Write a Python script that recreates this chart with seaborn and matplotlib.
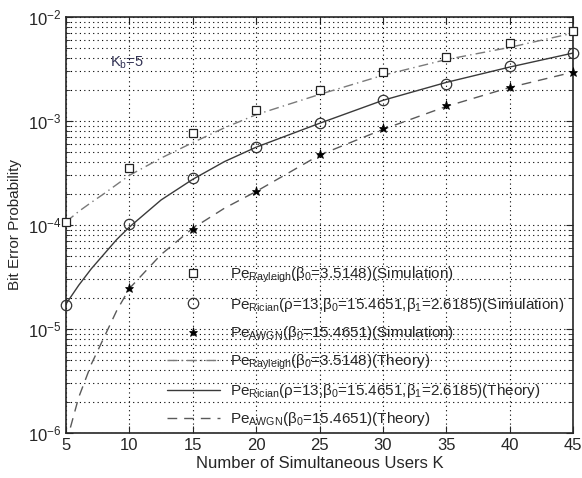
import numpy as np
import pandas as pd
import matplotlib
matplotlib.use("Agg")
import matplotlib.pyplot as plt
from matplotlib.lines import Line2D
from matplotlib.ticker import LogLocator, NullFormatter
import seaborn as sns

# ── Data ───────────────────────────────────────────────────────────────────────
K_SIM        = [5, 10, 15, 20, 25, 30, 35, 40, 45]
RAYLEIGH_SIM = [1.07e-4, 3.5e-4, 7.7e-4, 1.28e-3, 2.0e-3, 2.96e-3, 4.1e-3, 5.6e-3, 7.3e-3]
RICIAN_SIM   = [1.7e-5, 1.02e-4, 2.8e-4, 5.6e-4, 9.5e-4, 1.6e-3, 2.27e-3, 3.4e-3, 4.5e-3]
K_AWGN_SIM   = [10, 15, 20, 25, 30, 35, 40, 45]
AWGN_SIM     = [2.46e-5, 9.1e-5, 2.1e-4, 4.8e-4, 8.5e-4, 1.42e-3, 2.13e-3, 2.96e-3]

K_TH        = [5, 6, 7, 8, 9, 10, 12.5, 15, 17.5, 20, 25, 30, 35, 40, 45]
RAYLEIGH_TH = [1.07e-4, 1.35e-4, 1.65e-4, 2.0e-4, 2.45e-4, 3.0e-4, 4.4e-4, 6.2e-4, 8.6e-4,
               1.15e-3, 1.8e-3, 2.75e-3, 3.9e-3, 5.1e-3, 7.0e-3]
RICIAN_TH   = [1.74e-5, 2.63e-5, 3.8e-5, 5.25e-5, 7.25e-5, 9.55e-5, 1.74e-4, 2.75e-4, 4.07e-4,
               5.6e-4, 9.5e-4, 1.58e-3, 2.35e-3, 3.3e-3, 4.5e-3]
AWGN_TH     = [0.79e-6, 2.2e-6, 4.6e-6, 8.3e-6, 1.5e-5, 2.45e-5, 5.2e-5, 9.3e-5, 1.45e-4,
               2.1e-4, 4.7e-4, 8.3e-4, 1.38e-3, 2.1e-3, 2.95e-3]

LABELS = [
    r"Pe$_{\mathrm{Rayleigh}}$($\beta_0$=3.5148)(Simulation)",
    r"Pe$_{\mathrm{Rician}}$($\rho$=13,$\beta_0$=15.4651,$\beta_1$=2.6185)(Simulation)",
    r"Pe$_{\mathrm{AWGN}}$($\beta_0$=15.4651)(Simulation)",
    r"Pe$_{\mathrm{Rayleigh}}$($\beta_0$=3.5148)(Theory)",
    r"Pe$_{\mathrm{Rician}}$($\rho$=13,$\beta_0$=15.4651,$\beta_1$=2.6185)(Theory)",
    r"Pe$_{\mathrm{AWGN}}$($\beta_0$=15.4651)(Theory)",
]

# ── Style ──────────────────────────────────────────────────────────────────────
sns.set_style("ticks")
plt.rcParams["font.family"] = ["Liberation Sans", "DejaVu Sans"]
plt.rcParams["mathtext.fontset"] = "custom"
plt.rcParams["mathtext.rm"] = "Liberation Sans"
plt.rcParams["mathtext.it"] = "Liberation Sans"

fig = plt.figure(figsize=(5.82, 4.78), dpi=100)
ax = fig.add_axes([66 / 582, 1 - 433 / 478, 507 / 582, 416 / 478])

GRAY_RAY = "#7a7a7a"
GRAY_RIC = "#3a3a3a"
GRAY_AWG = "#5a5a5a"
LS_RAY = (0, (7, 3, 1, 3))
LS_AWG = (0, (7, 5))

# theory curves
sns.lineplot(x=K_TH, y=RAYLEIGH_TH, ax=ax, color=GRAY_RAY, lw=1.0,
             linestyle=LS_RAY, legend=False)
sns.lineplot(x=K_TH, y=RICIAN_TH, ax=ax, color=GRAY_RIC, lw=1.0,
             linestyle="-", legend=False)
sns.lineplot(x=K_TH, y=AWGN_TH, ax=ax, color=GRAY_AWG, lw=1.0,
             linestyle=LS_AWG, legend=False)

# simulation markers
sq = dict(ls="none", marker="s", ms=5.5, mfc="white", mec="#222222", mew=0.9)
ci = dict(ls="none", marker="o", ms=7.5, mfc="none", mec="#333333", mew=0.9)
st = dict(ls="none", marker="*", ms=6.5, mfc="black", mec="black", mew=0.5)
ax.plot(K_SIM, RAYLEIGH_SIM, clip_on=False, zorder=4, **sq)
ax.plot(K_SIM, RICIAN_SIM, clip_on=False, zorder=4, **ci)
ax.plot(K_AWGN_SIM, AWGN_SIM, clip_on=False, zorder=4, **st)

ax.set_yscale("log")
ax.set_xlim(5, 45)
ax.set_ylim(1e-6, 1e-2)
ax.set_xticks(range(5, 46, 5))
ax.yaxis.set_major_locator(LogLocator(base=10, numticks=10))
ax.yaxis.set_minor_locator(LogLocator(base=10, subs=np.arange(2, 10), numticks=10))
ax.yaxis.set_minor_formatter(NullFormatter())

ax.grid(True, which="major", color="black", linestyle=(0, (1, 3)), lw=0.8)
ax.grid(True, which="minor", axis="y", color="black", linestyle=(0, (1, 3)), lw=0.8)

ax.tick_params(which="both", direction="in", top=True, right=True, labelsize=12)
ax.tick_params(which="major", length=5)
ax.tick_params(which="minor", length=3)
for sp in ax.spines.values():
    sp.set_linewidth(1.2)

ax.set_xlabel("Number of Simultaneous Users K", fontsize=12, labelpad=2)
ax.set_ylabel("Bit Error Probability", fontsize=11, labelpad=4)

ax.text(0.087, 0.88, r"K$_{\mathrm{b}}$=5", transform=ax.transAxes, fontsize=10.5,
        color="#333355")

handles = [
    Line2D([], [], **sq),
    Line2D([], [], **ci),
    Line2D([], [], **st),
    Line2D([], [], color=GRAY_RAY, lw=1.0, ls=LS_RAY),
    Line2D([], [], color=GRAY_RIC, lw=1.0, ls="-"),
    Line2D([], [], color=GRAY_AWG, lw=1.0, ls=LS_AWG),
]
ax.legend(handles, LABELS, loc="lower left", bbox_to_anchor=(0.19, 0.0),
          frameon=False, fontsize=11, handlelength=3.45, handletextpad=0.7,
          labelspacing=0.68, borderpad=0.3, borderaxespad=0)

fig.savefig("out.png", dpi=100)
